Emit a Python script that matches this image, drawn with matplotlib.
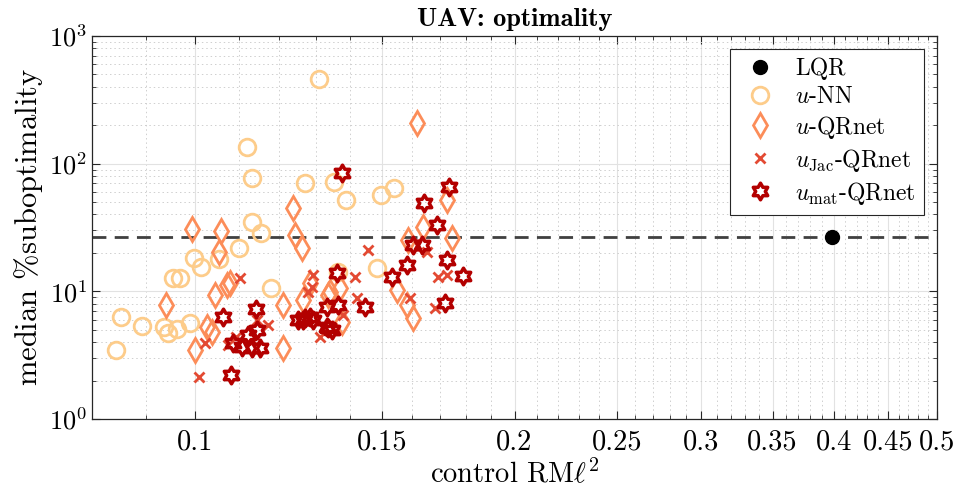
import numpy as np
import matplotlib
matplotlib.use('Agg')
import matplotlib.pyplot as plt
from matplotlib.path import Path
from matplotlib.ticker import FixedLocator, FixedFormatter, NullFormatter, LogLocator

plt.rcParams['font.family'] = 'serif'
plt.rcParams['font.serif'] = ['cmr10']
plt.rcParams['mathtext.fontset'] = 'cm'
plt.rcParams['axes.formatter.use_mathtext'] = True

# --- data (control RMl2, median % suboptimality) ---
lqr_x = [0.398]
lqr_y = [26.6]

nn_x = [0.0843, 0.0852, 0.0891, 0.0935, 0.0943, 0.0962, 0.0989, 0.0953, 0.0968, 0.0998,
        0.1013, 0.1053, 0.1100, 0.1132, 0.1154, 0.1179, 0.1119, 0.1132, 0.1269, 0.1309,
        0.1352, 0.1388, 0.1497, 0.1540, 0.1484, 0.1364]
nn_y = [3.47, 6.3, 5.35, 5.25, 4.7, 5.07, 5.65, 12.7, 12.7, 18.2,
        15.5, 17.9, 21.8, 34.9, 28.6, 10.6, 135, 77, 70.5, 460,
        71.8, 51.9, 56.8, 64.4, 15.2, 14.2]

qr_x = [0.0994, 0.1058, 0.1053, 0.0939, 0.1044, 0.1072, 0.1079, 0.1026, 0.1037, 0.1000,
        0.1210, 0.1210, 0.1242, 0.1261, 0.1264, 0.1335, 0.1370, 0.1375, 0.1237, 0.1618,
        0.1727, 0.1587, 0.1746, 0.1283, 0.1340, 0.1550, 0.1584, 0.1605, 0.1640]
qr_y = [30.7, 29.7, 20.3, 7.81, 9.35, 11.2, 11.6, 5.25, 4.80, 3.47,
        7.81, 3.60, 27.6, 21.8, 8.55, 9.35, 10.6, 5.75, 44.9, 208,
        51.9, 25.2, 26.1, 11.6, 9.88, 10.2, 7.81, 6.18, 31.9]

jac_x = [0.1009, 0.1022, 0.1074, 0.1102, 0.1093, 0.1172, 0.1144, 0.1292, 0.1290, 0.1278,
         0.1311, 0.1415, 0.1421, 0.1379, 0.1455, 0.1594, 0.1683, 0.1694, 0.1727, 0.1654]
jac_y = [2.13, 3.94, 3.80, 12.7, 4.39, 5.45, 5.96, 13.4, 10.8, 9.88,
         4.39, 12.9, 8.86, 6.52, 21.1, 8.86, 7.40, 12.9, 13.4, 20.3]

mat_x = [0.1063, 0.1081, 0.1141, 0.1086, 0.1107, 0.1122, 0.1132, 0.1151, 0.1144, 0.1250,
         0.1269, 0.1292, 0.1331, 0.1346, 0.1331, 0.1364, 0.1361, 0.1375, 0.1643, 0.1735,
         0.1690, 0.1533, 0.1584, 0.1605, 0.1636, 0.1727, 0.1788, 0.1720, 0.1446, 0.1334,
         0.1264, 0.1283]
mat_y = [6.29, 2.21, 7.27, 3.94, 3.66, 4.55, 3.60, 3.60, 4.98, 5.96,
         6.18, 5.96, 5.25, 4.98, 7.53, 7.81, 13.9, 84.4, 49.1, 65.6,
         33.0, 12.9, 16.1, 23.0, 23.0, 17.6, 13.2, 8.1, 7.53, 5.16,
         5.96, 6.29]

x_major = [0.1, 0.15, 0.2, 0.25, 0.3, 0.35, 0.4, 0.45, 0.5]
x_labels = ['0.1', '0.15', '0.2', '0.25', '0.3', '0.35', '0.4', '0.45', '0.5']

c_nn = '#fdcc8a'
c_qr = '#fc8d59'
c_jac = '#e34a33'
c_mat = '#b30000'

# hexagram marker (two triangles)
ang = np.deg2rad(90 + 30 * np.arange(12))
rad = np.where(np.arange(12) % 2 == 0, 1.0, 1 / np.sqrt(3))
verts = np.column_stack([rad * np.cos(ang), rad * np.sin(ang)])
verts = np.vstack([verts, verts[:1]])
hexagram = Path(verts, [Path.MOVETO] + [Path.LINETO] * 11 + [Path.CLOSEPOLY])

fig = plt.figure(figsize=(9.58, 4.96), dpi=100)
ax = fig.add_axes([92 / 958, 77 / 496, 845 / 958, 383 / 496])

ax.axhline(lqr_y[0], color='#404040', lw=2, ls=(0, (5, 3)), zorder=1.5)
ax.plot(lqr_x, lqr_y, 'o', color='k', ms=10, label='LQR', zorder=3)
ax.plot(nn_x, nn_y, 'o', mfc='none', mec=c_nn, mew=2, ms=12, ls='none', label=r'$u$-NN', zorder=3)
ax.plot(qr_x, qr_y, 'd', mfc='none', mec=c_qr, mew=2, ms=12, ls='none', label=r'$u$-QRnet', zorder=3)
ax.plot(jac_x, jac_y, 'x', color=c_jac, mew=2, ms=7.5, ls='none', label=r'$u_{\mathrm{Jac}}$-QRnet', zorder=3)
ax.plot(mat_x, mat_y, marker=hexagram, mfc='none', mec=c_mat, mew=2.5, ms=12, ls='none',
        label=r'$u_{\mathrm{mat}}$-QRnet', zorder=3)

ax.set_xscale('log')
ax.set_yscale('log')
ax.set_xlim(0.08, 0.5)
ax.set_ylim(1, 1000)

ax.xaxis.set_major_locator(FixedLocator(x_major))
ax.xaxis.set_major_formatter(FixedFormatter(x_labels))
minors = [v / 100 for v in range(8, 51) if v % 5 != 0]
ax.xaxis.set_minor_locator(FixedLocator(minors))
ax.xaxis.set_minor_formatter(NullFormatter())
ax.yaxis.set_major_locator(LogLocator(base=10, numticks=10))
ax.yaxis.set_minor_locator(LogLocator(base=10, subs=np.arange(2, 10), numticks=10))
ax.yaxis.set_minor_formatter(NullFormatter())

ax.tick_params(which='both', direction='in', top=True, right=True, color='#262626')
ax.tick_params(axis='x', which='major', pad=7, labelsize=20.5)
ax.tick_params(axis='y', which='major', labelsize=19)
ax.tick_params(which='major', length=6, width=0.8)
ax.tick_params(which='minor', length=3, width=0.6)
ax.grid(True, which='major', color='#e2e2e2', lw=0.8)
ax.grid(True, which='minor', color='#cfcfcf', lw=0.7, ls=(0, (1.5, 3)))
ax.set_axisbelow(True)
for s in ax.spines.values():
    s.set_color('#262626')
    s.set_linewidth(0.9)

ax.set_xlabel(r'control RM$\ell^2$', fontsize=20.5, labelpad=3)
ax.set_ylabel(r'median $\%$suboptimality', fontsize=22, labelpad=3)
ax.set_title('UAV: optimality', fontsize=19, fontfamily='cmb10', pad=7)

leg = ax.legend(loc='upper right', bbox_to_anchor=(0.9846, 0.966), borderaxespad=0,
                fontsize=17, fancybox=False, edgecolor='#262626', framealpha=1,
                labelspacing=0.25, handletextpad=0.6, borderpad=0.35, handlelength=1.8)
leg.get_frame().set_linewidth(0.8)

fig.savefig('out.png', dpi=100)
